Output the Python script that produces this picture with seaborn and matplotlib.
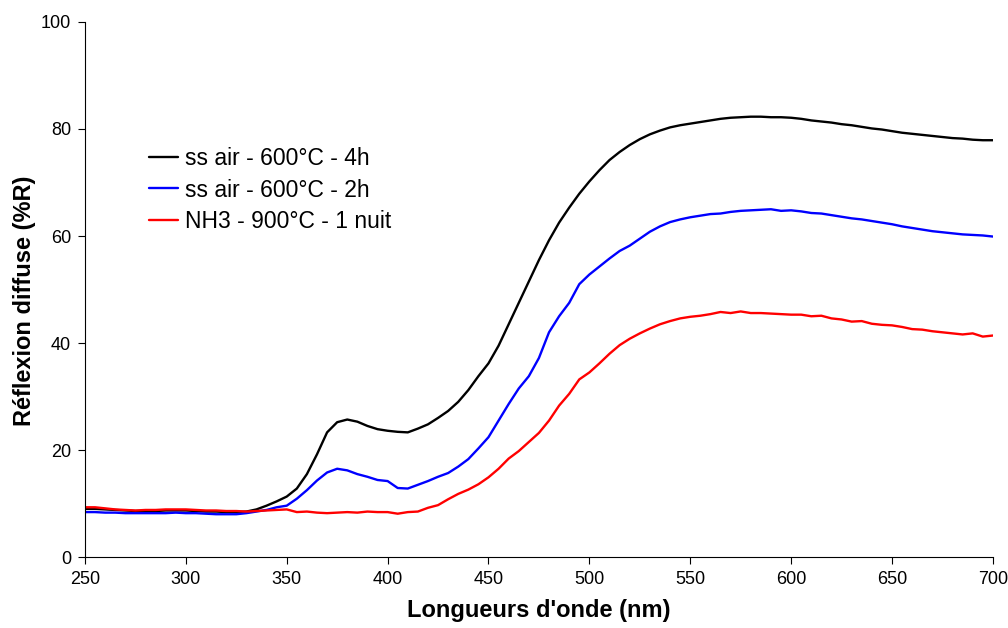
import numpy as np
import pandas as pd
import matplotlib
matplotlib.use("Agg")
import matplotlib.pyplot as plt
import seaborn as sns

# longueurs d'onde (nm), pas de 5 nm
longueurs = list(range(250, 705, 5))

noms = ["ss air - 600°C - 4h", "ss air - 600°C - 2h", "NH3 - 900°C - 1 nuit"]
couleurs = ["#000000", "#0000ff", "#ff0000"]

air_4h = [9.0, 9.0, 8.9, 8.8, 8.7, 8.6, 8.6, 8.6, 8.7, 8.7,
          8.7, 8.6, 8.5, 8.5, 8.4, 8.4, 8.5, 8.9, 9.6, 10.4,
          11.3, 12.8, 15.5, 19.2, 23.3, 25.2, 25.7, 25.3, 24.5, 23.9,
          23.6, 23.4, 23.3, 24.0, 24.8, 26.0, 27.3, 29.0, 31.2, 33.8,
          36.2, 39.5, 43.5, 47.5, 51.5, 55.5, 59.2, 62.5, 65.3, 67.9,
          70.2, 72.3, 74.2, 75.7, 77.0, 78.1, 79.0, 79.7, 80.3, 80.7,
          81.0, 81.3, 81.6, 81.9, 82.1, 82.2, 82.3, 82.3, 82.2, 82.2,
          82.1, 81.9, 81.6, 81.4, 81.2, 80.9, 80.7, 80.4, 80.1, 79.9,
          79.6, 79.3, 79.1, 78.9, 78.7, 78.5, 78.3, 78.2, 78.0, 77.9,
          77.9]

air_2h = [8.4, 8.4, 8.3, 8.3, 8.2, 8.2, 8.2, 8.2, 8.2, 8.3,
          8.2, 8.2, 8.1, 8.0, 8.0, 8.0, 8.2, 8.5, 8.8, 9.3,
          9.6, 10.9, 12.5, 14.3, 15.8, 16.5, 16.2, 15.5, 15.0, 14.4,
          14.2, 12.9, 12.8, 13.5, 14.2, 15.0, 15.7, 16.9, 18.3, 20.3,
          22.4, 25.5, 28.6, 31.5, 33.8, 37.2, 42.0, 45.0, 47.5, 51.0,
          52.8, 54.3, 55.8, 57.2, 58.2, 59.5, 60.8, 61.8, 62.6, 63.1,
          63.5, 63.8, 64.1, 64.2, 64.5, 64.7, 64.8, 64.9, 65.0, 64.7,
          64.8, 64.6, 64.3, 64.2, 63.9, 63.6, 63.3, 63.1, 62.8, 62.5,
          62.2, 61.8, 61.5, 61.2, 60.9, 60.7, 60.5, 60.3, 60.2, 60.1,
          59.9]

nh3_900 = [9.3, 9.3, 9.1, 8.9, 8.8, 8.7, 8.8, 8.8, 8.9, 8.9,
           8.9, 8.8, 8.7, 8.7, 8.6, 8.6, 8.5, 8.6, 8.7, 8.8,
           8.9, 8.4, 8.5, 8.3, 8.2, 8.3, 8.4, 8.3, 8.5, 8.4,
           8.4, 8.1, 8.4, 8.5, 9.2, 9.7, 10.8, 11.8, 12.6, 13.6,
           14.9, 16.5, 18.4, 19.8, 21.5, 23.2, 25.5, 28.3, 30.5, 33.2,
           34.5, 36.2, 38.0, 39.6, 40.8, 41.8, 42.7, 43.5, 44.1, 44.6,
           44.9, 45.1, 45.4, 45.8, 45.6, 45.9, 45.6, 45.6, 45.5, 45.4,
           45.3, 45.3, 45.0, 45.1, 44.6, 44.4, 44.0, 44.1, 43.6, 43.4,
           43.3, 43.0, 42.6, 42.5, 42.2, 42.0, 41.8, 41.6, 41.8, 41.2,
           41.4]

df = pd.DataFrame({
    "lambda": longueurs * 3,
    "R": air_4h + air_2h + nh3_900,
    "serie": [noms[0]] * len(longueurs) + [noms[1]] * len(longueurs) + [noms[2]] * len(longueurs),
})

sns.set_style("ticks")
plt.rcParams["font.family"] = ["Liberation Sans", "DejaVu Sans"]
plt.rcParams["text.color"] = "black"
plt.rcParams["axes.labelcolor"] = "black"

fig = plt.figure(figsize=(10.08, 6.28), dpi=100)
ax = fig.add_axes([0.0843, 0.113, 0.9007, 0.852])

sns.lineplot(data=df, x="lambda", y="R", hue="serie", hue_order=noms,
             palette=couleurs, linewidth=1.7, ax=ax)

ax.set_xlim(250, 700)
ax.set_ylim(0, 100)
ax.set_xticks(range(250, 701, 50))
ax.set_yticks(range(0, 101, 20))
ax.tick_params(labelsize=13, length=5, width=0.8, colors="black", pad=5)
sns.despine(ax=ax)
for s in ["left", "bottom"]:
    ax.spines[s].set_color("black")
    ax.spines[s].set_linewidth(0.8)

ax.set_xlabel("Longueurs d'onde (nm)", fontsize=17, fontweight="bold", labelpad=8)
ax.set_ylabel("Réflexion diffuse (%R)", fontsize=17, fontweight="bold")
ax.yaxis.set_label_coords(-0.054, 0.478)

leg = ax.legend(title=None, loc="upper left", bbox_to_anchor=(0.06, 0.783), frameon=False,
                fontsize=16.5, handlelength=1.3, handletextpad=0.3, labelspacing=0.36,
                borderaxespad=0)
for t in leg.get_texts():
    t.set_color("black")

fig.savefig("out.png", dpi=100)
